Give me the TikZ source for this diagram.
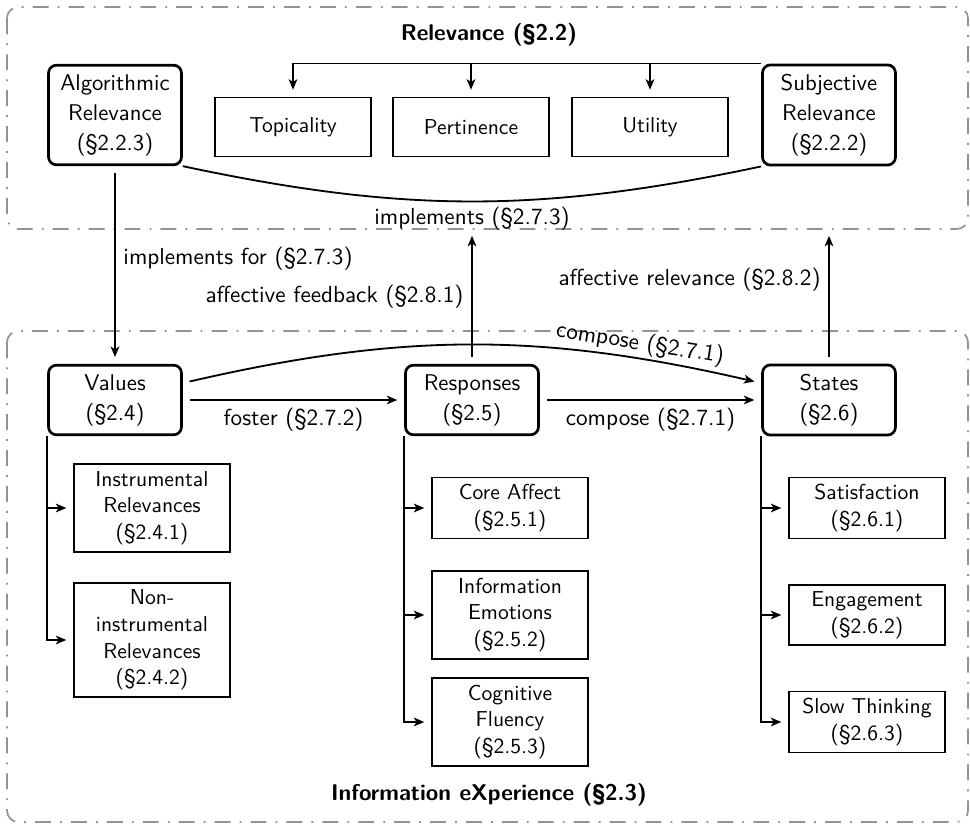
\documentclass[tikz,border=0pt]{standalone}
\usepackage{fontspec}
\usetikzlibrary{arrows.meta}

\begin{document}
\begin{tikzpicture}[x=0.44pt, y=-0.44pt, every node/.style={font=\sffamily}]
    \tikzstyle{marrs}=[line width=0.8pt,-{Stealth[length=4.6pt,width=3.8pt,inset=1.2pt]}, shorten <=3pt, shorten >=3pt]
    \tikzstyle{subarr}=[line width=0.8pt,-{Stealth[length=4.6pt,width=3.8pt,inset=1.2pt]}, shorten >=3pt]
    \tikzstyle{grp}=[gray!85, line width=0.75pt, rounded corners=5pt, dash pattern=on 7pt off 4pt on 0.8pt off 4pt]
    \tikzstyle{bigbox}=[draw, line width=1.2pt, rounded corners=3.5pt, align=center, minimum width=58.5pt, inner ysep=4pt, font=\sffamily\fontsize{10}{13.2}\selectfont]
    \tikzstyle{smallbox}=[draw, line width=0.8pt, align=center, minimum width=68.6pt, inner ysep=3pt, font=\sffamily\fontsize{9.5}{11.7}\selectfont]
    \tikzstyle{lbl}=[font=\sffamily\fontsize{10.2}{12}\selectfont]

    \useasboundingbox (0,0) rectangle (970,827);

    % groups
    \draw[grp] (7,7) rectangle (968,229);
    \draw[grp] (7,331) rectangle (968,822);
    \coordinate (relbot) at (487,229);
    \node[font=\sffamily\bfseries] (reltitle) at (489,35) {Relevance (§2.2)};
    \node[font=\sffamily\bfseries] (ixtitle) at (489,795) {Information eXperience (§2.3)};

    % relevance
    \node[bigbox] (alg) at (115,115) {Algorithmic\\Relevance\\(§2.2.3)};
    \node[bigbox] (subj) at (829,115) {Subjective\\Relevance\\(§2.2.2)};
    \foreach \name/\x/\txt in {topic/293/Topicality, pert/471/Pertinence, util/650/Utility} {
        \node[smallbox, minimum height=26pt] (\name) at (\x,127) {\txt};
    }
    \draw[subarr] (subj.north west) -| (topic.north);
    \draw[subarr] (pert.north |- subj.north west) -- (pert.north);
    \draw[subarr] (util.north |- subj.north west) -- (util.north);
    \draw[line width=0.8pt] (alg.south east) to[bend right=12] node[lbl, below, inner sep=2pt] (impllbl) {implements (§2.7.3)} (subj.south west);

    % experience
    \node[bigbox] (vals) at (115,400) {Values\\(§2.4)};
    \node[bigbox] (resp) at (472,400) {Responses\\(§2.5)};
    \node[bigbox] (states) at (829,400) {States\\(§2.6)};

    \node[smallbox] (instr) at (152,508) {Instrumental\\Relevances\\(§2.4.1)};
    \node[smallbox] (noninstr) at (152,640) {Non-\\instrumental\\Relevances\\(§2.4.2)};
    \node[smallbox] (core) at (510,508) {Core Affect\\(§2.5.1)};
    \node[smallbox] (emo) at (510,615) {Information\\Emotions\\(§2.5.2)};
    \node[smallbox] (fluency) at (510,722) {Cognitive\\Fluency\\(§2.5.3)};
    \node[smallbox] (satis) at (867,508) {Satisfaction\\(§2.6.1)};
    \node[smallbox] (engage) at (867,615) {Engagement\\(§2.6.2)};
    \node[smallbox] (slow) at (867,722) {Slow Thinking\\(§2.6.3)};

    \foreach \parent/\child in {vals/instr, vals/noninstr, resp/core, resp/emo, resp/fluency, states/satis, states/engage, states/slow} {
        \draw[subarr] (\parent.south west) |- (\child.west);
    }

    \draw[marrs] (alg) -- node[lbl, right, pos=0.47] (implforlbl) {implements for (§2.7.3)} (vals);
    \draw[marrs] (vals) -- node[lbl, below] (fosterlbl) {foster (§2.7.2)} (resp);
    \draw[marrs] (resp) -- node[lbl, below] (complbl) {compose (§2.7.1)} (states);
    \draw[marrs] (vals.14) to[bend left=13] node[lbl, above, sloped, pos=0.8, inner sep=1pt] (compcurvelbl) {compose (§2.7.1)} (states.166);
    \draw[marrs] (resp) -- node[lbl, left, pos=0.5] (fblbl) {affective feedback (§2.8.1)} (resp |- relbot);
    \draw[marrs] (states) -- node[lbl, left, pos=0.62] (arlbl) {affective relevance (§2.8.2)} (states |- relbot);

\end{tikzpicture}
\end{document}
